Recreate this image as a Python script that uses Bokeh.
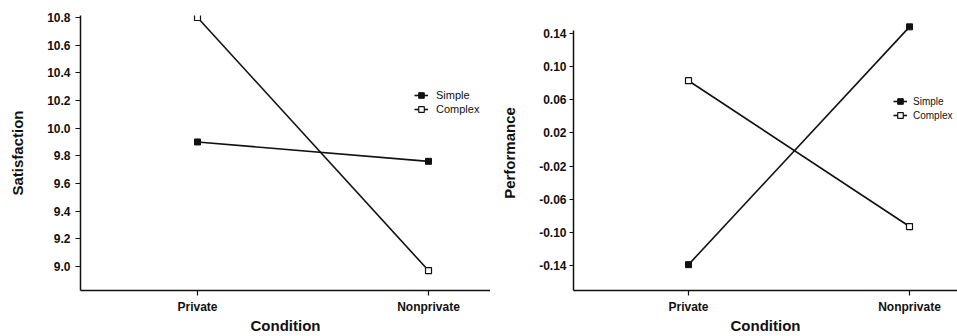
from bokeh.plotting import figure
from bokeh.layouts import row
from bokeh.models import FixedTicker, Legend, LegendItem, Range1d
from bokeh.embed import file_html
from bokeh.resources import INLINE

conditions = ["Private", "Nonprivate"]
series = ["Simple", "Complex"]
satisfaction_simple = [9.90, 9.76]
satisfaction_complex = [10.80, 8.97]
performance_simple = [-0.139, 0.148]
performance_complex = [0.083, -0.093]
sat_ticks = [9.0, 9.2, 9.4, 9.6, 9.8, 10.0, 10.2, 10.4, 10.6, 10.8]
sat_tick_labels = ["9.0", "9.2", "9.4", "9.6", "9.8", "10.0", "10.2", "10.4", "10.6", "10.8"]
perf_ticks = [-0.14, -0.10, -0.06, -0.02, 0.02, 0.06, 0.10, 0.14]
perf_tick_labels = ["-0.14", "-0.10", "-0.06", "-0.02", "0.02", "0.06", "0.10", "0.14"]
x_title = "Condition"

FONT = "Liberation Sans"
INK = "#111111"
xs = list(range(len(conditions)))


def make_panel(width, x_range, y_range, y_bounds, yticks, ylabels, ylabel, simple, complex_,
               border_left, tick_out, label_standoff, legend_loc, legend_font, legend_gap):
    p = figure(width=width, height=336, output_backend="svg", toolbar_location=None,
               x_range=Range1d(*x_range), y_range=Range1d(*y_range),
               min_border_left=border_left, min_border_right=0,
               min_border_top=15, min_border_bottom=30)
    p.outline_line_color = None
    p.grid.visible = False
    p.background_fill_color = "white"
    p.border_fill_color = "white"

    p.xaxis.ticker = FixedTicker(ticks=xs)
    p.xaxis.major_label_overrides = {i: c for i, c in zip(xs, conditions)}
    p.yaxis.ticker = FixedTicker(ticks=yticks)
    p.yaxis.major_label_overrides = {t: l for t, l in zip(yticks, ylabels)}
    p.yaxis.bounds = y_bounds
    for ax in (p.xaxis, p.yaxis):
        ax.minor_tick_line_color = None
        ax.major_tick_in = 0
        ax.axis_line_color = INK
        ax.axis_line_width = 1.5
        ax.major_tick_line_color = INK
        ax.major_tick_line_width = 1.2
        ax.major_label_text_font = FONT
        ax.major_label_text_font_style = "bold"
        ax.major_label_text_color = INK
        ax.major_label_text_font_size = "12px"
        ax.axis_label_text_font = FONT
        ax.axis_label_text_font_style = "bold"
        ax.axis_label_text_color = INK
        ax.axis_label_text_font_size = "15px"
    p.yaxis.major_tick_out = tick_out
    p.xaxis.major_tick_out = 5
    p.yaxis.major_label_standoff = label_standoff
    p.xaxis.major_label_standoff = 4
    p.yaxis.axis_label = ylabel
    p.yaxis.axis_label_standoff = 18
    p.xaxis.axis_label = x_title
    p.xaxis.axis_label_standoff = 0

    l1 = p.line(xs, simple, line_color=INK, line_width=1.6)
    m1 = p.scatter(xs, simple, marker="square", size=6, fill_color=INK, line_color=INK)
    l2 = p.line(xs, complex_, line_color=INK, line_width=1.6)
    m2 = p.scatter(xs, complex_, marker="square", size=6, fill_color="white",
                   line_color=INK, line_width=1.2)

    legend = Legend(items=[LegendItem(label=series[0], renderers=[l1, m1]),
                           LegendItem(label=series[1], renderers=[l2, m2])],
                    location=legend_loc, border_line_alpha=0, background_fill_alpha=0,
                    padding=0, margin=0, spacing=0, label_height=14, glyph_height=14,
                    glyph_width=14, label_standoff=legend_gap, label_text_font=FONT,
                    label_text_font_size=legend_font, label_text_color=INK)
    p.add_layout(legend)
    return p


left = make_panel(490, (-0.5065, 1.2684), (8.826, 10.8145), (8.826, 10.8145),
                  sat_ticks, sat_tick_labels, "Satisfaction",
                  satisfaction_simple, satisfaction_complex,
                  border_left=80, tick_out=5, label_standoff=5, legend_loc=(334, 174),
                  legend_font="11px", legend_gap=8)
right = make_panel(467, (-0.5204, 1.2172), (-0.1702, 0.1617), (-0.1702, 0.1436),
                   perf_ticks, perf_tick_labels, "Performance",
                   performance_simple, performance_complex,
                   border_left=83, tick_out=4, label_standoff=3, legend_loc=(320, 168),
                   legend_font="10px", legend_gap=6)

layout = row(left, right)
open("out.html", "w").write(file_html(layout, INLINE))
